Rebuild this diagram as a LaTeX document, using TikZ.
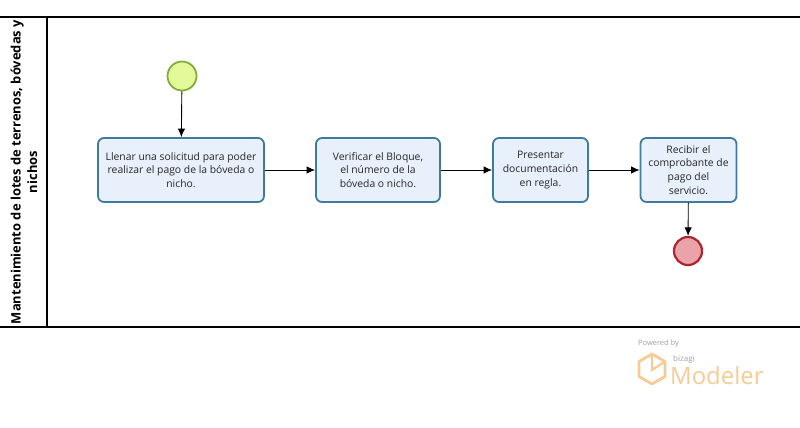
\documentclass[tikz,border=0pt]{standalone}
\usepackage{fontspec}
\setmainfont{Open Sans}
\usetikzlibrary{arrows.meta}
\definecolor{taskfill}{HTML}{E8F0FB}
\definecolor{taskdraw}{HTML}{3D7CA0}
\definecolor{startfill}{HTML}{E4FA9A}
\definecolor{startdraw}{HTML}{7FAE3A}
\definecolor{endfill}{HTML}{EBA3AA}
\definecolor{enddraw}{HTML}{B0222E}
\definecolor{logo}{HTML}{F6CB95}
\definecolor{logogray}{HTML}{A0A0A0}
\tikzset{
  task/.style={draw=taskdraw, fill=taskfill, line width=1.8pt, rounded corners=6bp,
    align=center, font=\fontsize{10.4}{13.8}\selectfont, text=black!85, inner sep=0pt},
  startev/.style={circle, draw=startdraw, fill=startfill, line width=1.8pt, minimum size=29bp, inner sep=0pt},
  endev/.style={circle, draw=enddraw, fill=endfill, line width=2.2pt, minimum size=28bp, inner sep=0pt},
  flow/.style={draw=black, line width=0.9pt, -{Latex[length=8.5bp,width=7.5bp]}},
  poolline/.style={line width=1.4pt, black}
}
\begin{document}
\begin{tikzpicture}[x=1bp,y=-1bp]
\useasboundingbox (0,0) rectangle (800,427);
% pool
\draw[poolline] (0,17) -- (800,17);
\draw[poolline] (0,327) -- (800,327);
\draw[poolline] (47,17) -- (47,327);
\node[rotate=90, align=center, font=\bfseries\fontsize{13}{16.5}\selectfont, inner sep=0pt] (lane) at (24,172)
  {Mantenimiento de lotes de terrenos, bóvedas y\\nichos};
% events
\node[startev] (start) at (182,76) {};
\node[endev] (end) at (688,251) {};
% tasks
\node[task, minimum width=166bp, minimum height=64bp] (t1) at (181,170)
  {Llenar una solicitud para poder\\realizar el pago de la bóveda o\\nicho.};
\node[task, minimum width=124bp, minimum height=64bp] (t2) at (378,170)
  {Verificar el Bloque,\\el número de la\\bóveda o nicho.};
\node[task, minimum width=95bp, minimum height=64bp] (t3) at (540.5,170)
  {Presentar\\documentación\\en regla.};
\node[task, minimum width=96bp, minimum height=64bp] (t4) at (688.5,170)
  {Recibir el\\comprobante de\\pago del\\servicio.};
% flows
\draw[flow] (start) -- (t1);
\draw[flow] (t1) -- (t2);
\draw[flow] (t2) -- (t3);
\draw[flow] (t3) -- (t4);
\draw[flow] (t4) -- (end);
% logo
\node[anchor=west, text=logogray, font=\fontsize{7.5}{8}\selectfont, inner sep=0pt] (pw) at (638,344) {Powered by};
\draw[logo, line width=2.8pt, line join=round] (652,354) -- (665,361.5) -- (665,376.5) -- (652,384) -- (639,376.5) -- (639,361.5) -- cycle;
\draw[logo, line width=2.2pt] (652,354) -- (652,370) -- (665,361.5);
\node[anchor=west, text=logogray, font=\fontsize{8}{9}\selectfont, inner sep=0pt] (bz) at (673,359) {bizagi};
\node[anchor=west, text=logo, font=\fontsize{24}{26}\selectfont, inner sep=0pt] (md) at (670,376) {Modeler};
\end{tikzpicture}
\end{document}
